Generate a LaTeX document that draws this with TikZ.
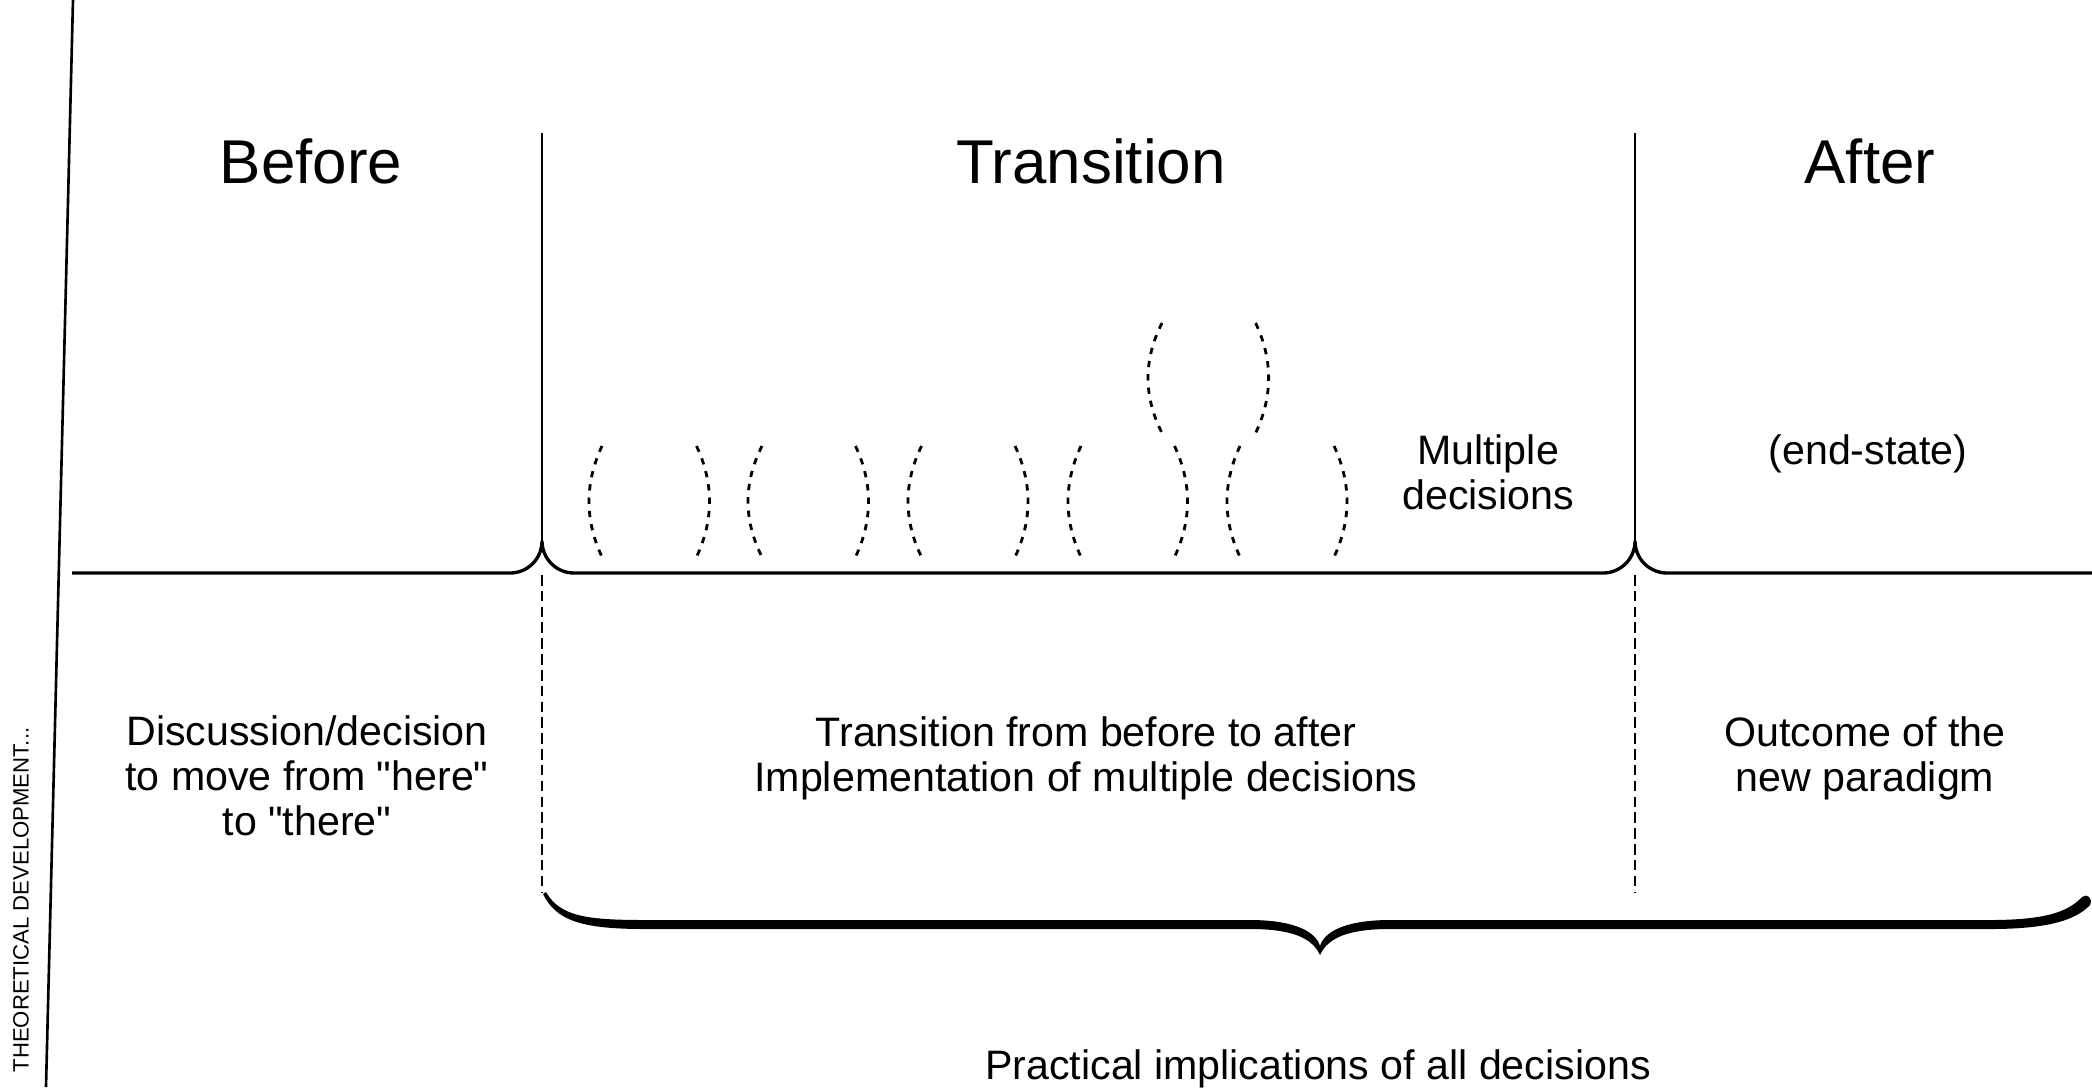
\documentclass[tikz,border=0pt]{standalone}
\usepackage{fontspec}
\setmainfont{Liberation Sans}
\newcommand\dashedarc[4]{\draw[decarc] (#1,#3) .. controls ({#1+1.333*(#2)},{#3+(#4-#3)/3}) and ({#1+1.333*(#2)},{#3+2*(#4-#3)/3}) .. (#1,#4);}
\begin{document}
\begin{tikzpicture}[x=0.01cm,y=-0.01cm,
  mainline/.style={line width=0.95pt},
  spikeline/.style={line width=0.75pt},
  slantline/.style={line width=0.75pt},
  divider/.style={line width=0.6pt, dash pattern=on 3pt off 1.5pt},
  decarc/.style={line width=0.8pt, dash pattern=on 1.8pt off 2pt},
  title/.style={font=\fontsize{17.6pt}{20pt}\selectfont, inner sep=0pt, anchor=base},
  body/.style={font=\fontsize{11.7pt}{12.8pt}\selectfont, inner sep=0pt, align=center},
  sidelabel/.style={font=\fontsize{6.3pt}{7pt}\selectfont, inner sep=0pt, rotate=90}
  ]
\useasboundingbox (0,0) rectangle (2092,1087);
\fill[white] (0,0) rectangle (2092,1087);

% slanted axis on the left
\draw[slantline] (73,0) -- (46,1087);
\node[sidelabel] (theo) at (21,900) {THEORETICAL DEVELOPMENT...};

% baseline with the two cusps
\draw[mainline] (72,573) -- (510,573)
  .. controls (527.7,573) and (542,558.7) .. (542,541)
  .. controls (542,558.7) and (556.3,573) .. (574,573)
  -- (1603,573)
  .. controls (1620.7,573) and (1635,558.7) .. (1635,541)
  .. controls (1635,558.7) and (1649.3,573) .. (1667,573)
  -- (2092,573);

% vertical separators
\draw[spikeline] (542,133) -- (542,541);
\draw[spikeline] (1635,133) -- (1635,541);
\draw[divider] (542,575) -- (542,893);
\draw[divider] (1635,575) -- (1635,893);

% dashed arcs (multiple decisions)
\dashedarc{602}{-13}{446}{557}
\dashedarc{696.5}{13}{446}{557}
\dashedarc{762}{-14}{446}{557}
\dashedarc{855.5}{13}{446}{557}
\dashedarc{921.5}{-13.5}{446}{557}
\dashedarc{1015}{13}{446}{557}
\dashedarc{1081}{-13}{446}{557}
\dashedarc{1174.5}{13}{446}{557}
\dashedarc{1240}{-13}{446}{557}
\dashedarc{1334}{13}{446}{557}
\dashedarc{1162}{-14}{323}{433}
\dashedarc{1255.6}{13}{323}{433}

% brace
\fill (546,892) .. controls (560,916) and (585,920) .. (645,920)
  -- (1250,920) .. controls (1295,920) and (1316,932) .. (1320,946)
  .. controls (1324,932) and (1345,920) .. (1390,920)
  -- (1990,920) .. controls (2045,920) and (2068,912) .. (2082,897)
  .. controls (2087,893) and (2093,898) .. (2090,905)
  .. controls (2075,921) and (2045,929) .. (1990,929)
  -- (1390,929) .. controls (1350,929) and (1328,937) .. (1320,955)
  .. controls (1312,937) and (1290,929) .. (1250,929)
  -- (645,929) .. controls (580,929) and (556,920) .. (543,894) -- cycle;

% titles
\node[title] (before) at (311,183) {Before};
\node[title] (transition) at (1091,183) {Transition};
\node[title] (after) at (1870,183) {After};

% texts
\node[body] (multiple) at (1488,472) {Multiple\\decisions};
\node[body, anchor=base] (endstate) at (1868,464) {(end-state)};
\node[body] (discussion) at (307,776) {Discussion/decision\\to move from \textquotedbl here\textquotedbl\\to \textquotedbl there\textquotedbl};
\node[body] (transtext) at (1086,758) {Transition from before to after\\Implementation of multiple decisions};
\node[body] (outcome) at (1865,758) {Outcome of the\\new paradigm};
\node[body, anchor=base] (practical) at (1318,1079) {Practical implications of all decisions};
\end{tikzpicture}
\end{document}
